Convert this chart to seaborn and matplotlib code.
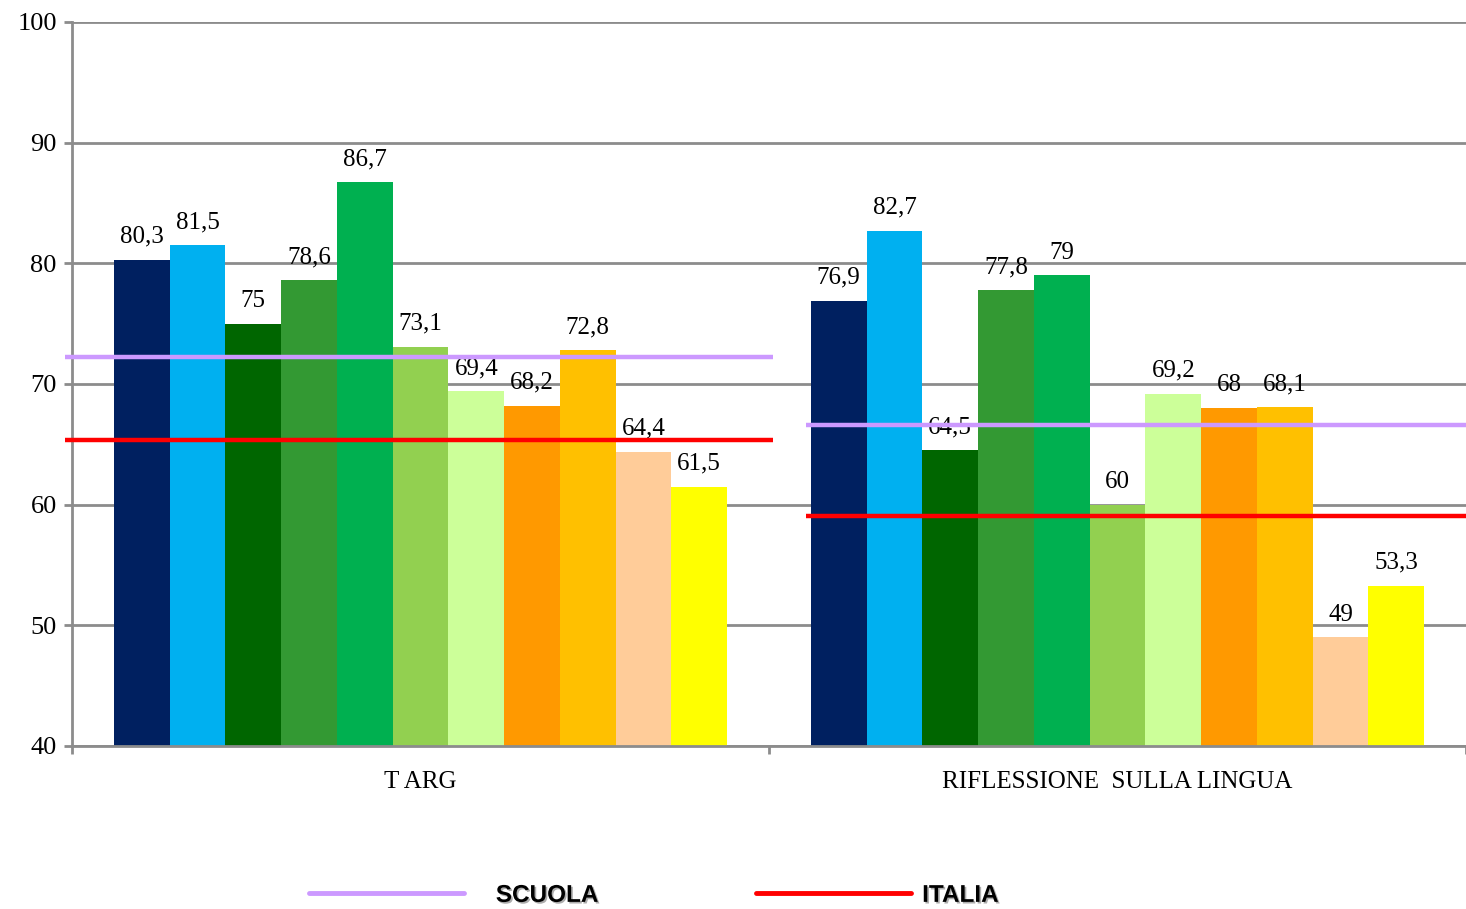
import seaborn as sns
import matplotlib.pyplot as plt
import matplotlib.patheffects as pe
from matplotlib.lines import Line2D
import pandas as pd

sns.set_theme(style="white")
plt.rcParams['font.family'] = ['Liberation Serif', 'DejaVu Serif']
plt.rcParams['text.color'] = 'black'
plt.rcParams['xtick.color'] = 'black'
plt.rcParams['ytick.color'] = 'black'

# data
categories = ["T ARG", "RIFLESSIONE  SULLA LINGUA"]
series = ["s1", "s2", "s3", "s4", "s5", "s6", "s7", "s8", "s9", "s10", "s11"]
t_arg = [80.3, 81.5, 75, 78.6, 86.7, 73.1, 69.4, 68.2, 72.8, 64.4, 61.5]
riflessione = [76.9, 82.7, 64.5, 77.8, 79, 60, 69.2, 68, 68.1, 49, 53.3]
scuola = [72.2, 66.6]
italia = [65.4, 59.1]
colors = ["#002060", "#00B0F0", "#006600", "#339933", "#00B050", "#92D050",
          "#CCFF99", "#FF9900", "#FFC000", "#FFCC99", "#FFFF00"]

df = pd.DataFrame({
    "cat": [categories[0]] * len(series) + [categories[1]] * len(series),
    "serie": series * 2,
    "val": t_arg + riflessione,
})

fig = plt.figure(figsize=(14.66, 9.09), dpi=100)
ax = fig.add_axes([72 / 1466, 163 / 909, 1 - 72 / 1466, 724 / 909])

sns.barplot(data=df, x="cat", y="val", hue="serie", palette=colors,
            width=0.88, legend=False, ax=ax, saturation=1, zorder=2, linewidth=0)

for cont in ax.containers:
    ax.bar_label(cont, labels=[("%g" % b.get_height()).replace(".", ",") for b in cont],
                 padding=8.5, fontsize=18, color="black")

# reference lines per group
grey = "#8c8c8c"
seg = [(-0.51, 0.506), (0.553, 1.5)]
for i in range(2):
    ax.plot(seg[i], [scuola[i]] * 2, color="#CC99FF", lw=3.2, zorder=4,
            clip_on=False, solid_capstyle="butt")
    ax.plot(seg[i], [italia[i]] * 2, color="#FF0000", lw=3.2, zorder=4,
            clip_on=False, solid_capstyle="butt")

ax.set_xlim(-0.5, 1.5)
ax.set_ylim(40, 100)
ax.set_yticks(range(40, 101, 10))
ax.set_xticks([-0.5, 0.5, 1.5], minor=True)
ax.yaxis.grid(True, color=grey, lw=2)
ax.set_axisbelow(True)
ax.set_xlabel("")
ax.set_ylabel("")
for s in ["top", "right"]:
    ax.spines[s].set_visible(False)
for s in ["left", "bottom"]:
    ax.spines[s].set_color(grey)
    ax.spines[s].set_linewidth(2)
ax.tick_params(axis="y", left=True, length=6, width=2, color=grey, labelsize=19, pad=5)
ax.tick_params(axis="x", which="major", bottom=False, labelsize=18, pad=12)
ax.tick_params(axis="x", which="minor", bottom=True, length=6, width=2, color=grey)

# legend: two separate entries, like the original layout
leg_prop = {"family": "Liberation Sans", "weight": "bold", "size": 17.5}
entries = [("SCUOLA", "#CC99FF", 307 / 1466, 1.3), ("ITALIA", "#FF0000", 754 / 1466, 0.45)]
for name, col, x0, tpad in entries:
    leg = fig.legend([Line2D([], [], color=col, lw=3.5)], [name], loc="center left",
                     bbox_to_anchor=(x0 - 0.0055, 0.015), frameon=False, handlelength=6.4,
                     handletextpad=tpad, borderaxespad=0, borderpad=0.4, prop=leg_prop)
    for t in leg.get_texts():
        t.set_path_effects([pe.withSimplePatchShadow(offset=(1.2, -1.2), shadow_rgbFace="#777777", alpha=0.6)])

fig.savefig("out.png", dpi=100)
